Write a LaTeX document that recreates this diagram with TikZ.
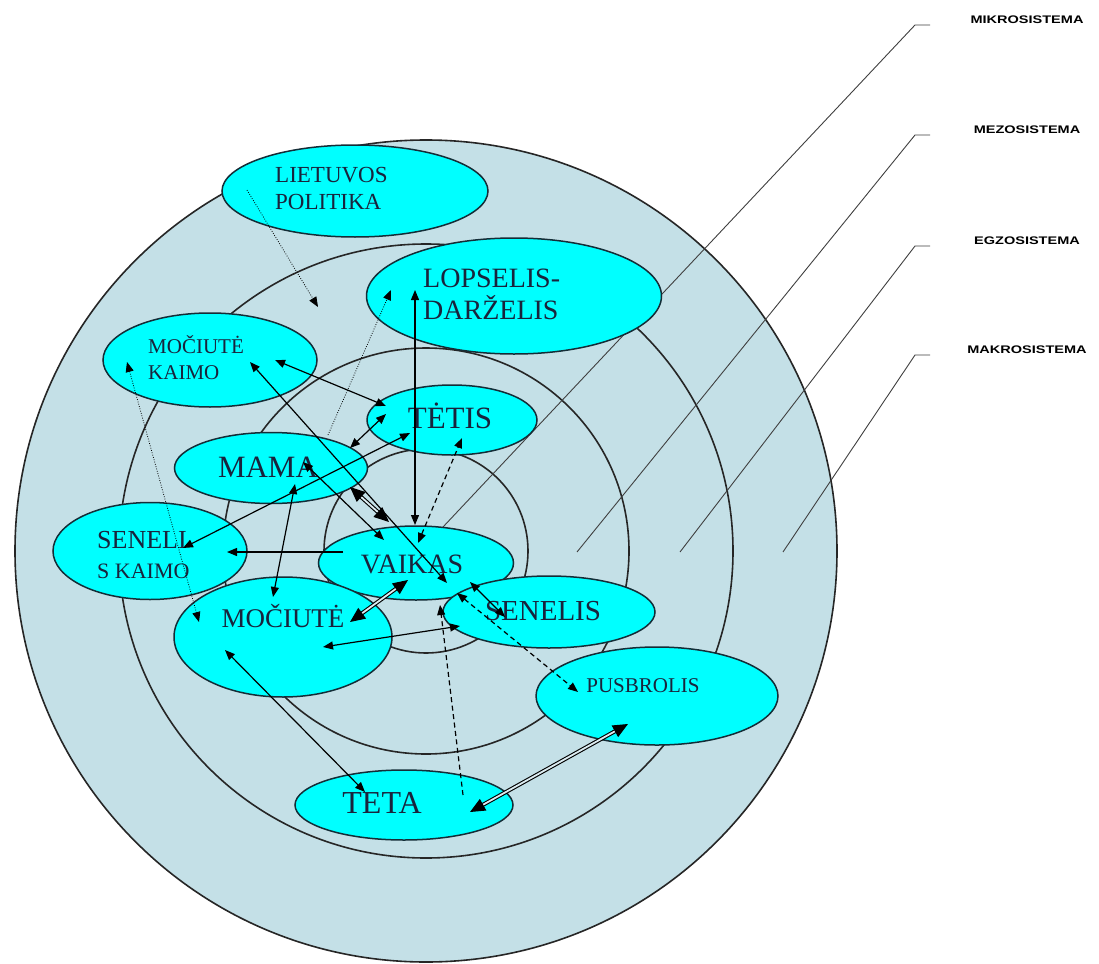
\documentclass[tikz,border=0pt]{standalone}
\usepackage{graphicx}
\usepackage{fontspec}
\setmainfont{Liberation Serif}
\newfontfamily\labelfont{Liberation Sans}
\usetikzlibrary{shapes,arrows.meta}
\tikzset{>={Triangle[length=10pt,width=8pt]}}
\definecolor{sysblue}{RGB}{196,224,231}
\definecolor{nodecyan}{RGB}{0,255,255}
\definecolor{edge}{RGB}{20,45,55}
\definecolor{ink}{RGB}{25,35,60}
\tikzset{
  blob/.style={ellipse, draw=edge, line width=1.5pt, fill=nodecyan, inner sep=0pt},
  ring/.style={draw=black!85, line width=1.6pt},
  txt/.style={text=ink, inner sep=0pt, align=left},
  leader/.style={draw=black!75, line width=0.9pt},
  syslabel/.style={inner sep=0pt, font=\labelfont\bfseries\fontsize{11}{11}\selectfont},
  link/.style={<->, line width=1.2pt},
  onelink/.style={->, line width=1.2pt},
  dots/.style={dash pattern=on 0.8pt off 1.6pt, line width=0.8pt},
  dashes/.style={dash pattern=on 5pt off 3.5pt, line width=1.2pt},
  boldlink/.style={{Triangle[length=15pt,width=13pt]}-{Triangle[length=15pt,width=13pt]},
    line width=1.1pt, double=sysblue!60, double distance=1.8pt}
}

\begin{document}
\begin{tikzpicture}[x=1pt,y=-1pt]
  \useasboundingbox (0,0) rectangle (1099,963);
  \fill[white] (0,0) rectangle (1099,963);
  \def\cx{426}  % centre of the systems
  \def\cy{551}
  \fill[sysblue] (\cx,\cy) circle (411pt);
  \foreach \r in {411,307,203,102} {%
    \draw[ring] (\cx,\cy) circle (\r pt);
  }
  %
  \foreach \i/\fx/\fy/\ty/\sysname in {1/443/527/25/MIKROSISTEMA,2/577/552/135/MEZOSISTEMA,
      3/680/552/246/EGZOSISTEMA,4/783/552/355/MAKROSISTEMA} {%
    \coordinate (foot\i) at (\fx,\fy);
    \coordinate (knee\i) at (915,\ty);
    \coordinate (end\i) at (930,\ty);
    \draw[leader] (foot\i) -- (knee\i) -- (end\i);
    \node[syslabel] (sys\i) at (1027,\ty-5) {\scalebox{1.32}[1]{\sysname}};
  }
  %
  \node[blob, minimum width=266pt, minimum height=92pt] (politika) at (355,191) {};
  \node[blob, minimum width=295pt, minimum height=116pt] (lopselis) at (514,296) {};
  \node[blob, minimum width=214pt, minimum height=94pt] (mkaimo) at (210,360) {};
  \node[blob, minimum width=170pt, minimum height=70pt] (tetis) at (452,420) {};
  \node[blob, minimum width=193pt, minimum height=71pt] (mama) at (271,468) {};
  \node[blob, minimum width=194pt, minimum height=97pt] (skaimo) at (150,551) {};
  \node[blob, minimum width=195pt, minimum height=74pt] (vaikas) at (416,563) {};
  \node[blob, minimum width=218pt, minimum height=120pt] (mociute) at (283,637) {};
  \node[blob, minimum width=212pt, minimum height=72pt] (senelis) at (549,612) {};
  \node[blob, minimum width=242pt, minimum height=98pt] (pusbrolis) at (657,696) {};
  \node[blob, minimum width=218pt, minimum height=70pt] (teta) at (404,805) {};
  %
  \node[txt, anchor=west, font=\fontsize{23}{27}\selectfont] (politika-t) at (275,188) {LIETUVOS\\POLITIKA};
  \node[txt, anchor=west, font=\fontsize{28}{32}\selectfont] (lopselis-t) at (423,294) {LOPSELIS-\\DARŽELIS};
  \node[txt, anchor=west, font=\fontsize{21}{26}\selectfont] (mkaimo-t) at (148,358) {MOČIUTĖ\\KAIMO};
  \node[txt, anchor=base, font=\fontsize{31}{31}\selectfont] (tetis-t) at (450,428) {TĖTIS};
  \node[txt, anchor=base, font=\fontsize{31}{31}\selectfont] (mama-t) at (268,477) {MAMA};
  \node[txt, anchor=west, font=\fontsize{26}{30}\selectfont] (skaimo-t) at (97,555) {SENELI\\{\fontsize{22}{22}\selectfont S KAIMO}};
  \node[txt, anchor=base, font=\fontsize{28}{28}\selectfont] (vaikas-t) at (412,573) {VAIKAS};
  \node[txt, anchor=base, font=\fontsize{27}{27}\selectfont] (mociute-t) at (283,627) {MOČIUTĖ};
  \node[txt, anchor=base, font=\fontsize{29}{29}\selectfont] (senelis-t) at (543,620) {SENELIS};
  \node[txt, anchor=base, font=\fontsize{21}{21}\selectfont] (pusbrolis-t) at (643,692) {PUSBROLIS};
  \node[txt, anchor=base, font=\fontsize{32}{32}\selectfont] (teta-t) at (382,813) {TETA};
  %
  \coordinate (pol-s) at (247,190);   \coordinate (pol-e) at (318,307);
  \coordinate (mam-n) at (328,435);   \coordinate (lop-w) at (391,290);
  \coordinate (mk-w) at (127,362);    \coordinate (moc-nw) at (199,622);
  \coordinate (lop-s) at (415,290);   \coordinate (vai-n) at (415,525);
  \coordinate (mk-e) at (275,360);    \coordinate (tet-w) at (386,406);
  \coordinate (mk-c) at (250,362);    \coordinate (vai-se) at (447,583);
  \coordinate (mam-ne) at (350,448);  \coordinate (tet-sw) at (386,414);
  \coordinate (sk-c) at (183,548);    \coordinate (tet-s) at (410,433);
  \coordinate (vai-w) at (343,552);   \coordinate (sk-e) at (227,552);
  \coordinate (mam-s) at (295,484);   \coordinate (moc-n) at (273,597);
  \coordinate (mam-se) at (350,487);  \coordinate (vai-nw) at (389,522);
  \coordinate (mam-c) at (303,462);   \coordinate (vai-nw2) at (384,540);
  \coordinate (vai-s) at (408,580);   \coordinate (moc-ne) at (350,622);
  \coordinate (moc-c) at (323,647);   \coordinate (sen-w) at (460,626);
  \coordinate (moc-w) at (225,650);   \coordinate (teta-nw) at (365,792);
  \coordinate (teta-e) at (470,812);  \coordinate (pus-sw) at (628,724);
  \coordinate (teta-n) at (463,795);  \coordinate (sen-nw) at (440,605);
  \coordinate (vai-c) at (418,543);   \coordinate (tet-c) at (462,438);
  \coordinate (vai-se2) at (457,593); \coordinate (pus-w) at (578,692);
  \coordinate (sen-n) at (470,582);   \coordinate (sen-c) at (505,617);
  %
  \draw[onelink, dots] (pol-s) -- (pol-e);
  \draw[onelink, dots] (mam-n) -- (lop-w);
  \draw[link, dots] (mk-w) -- (moc-nw);
  \draw[link] (lop-s) -- (vai-n);
  \draw[link] (mk-e) -- (tet-w);
  \draw[link] (mk-c) -- (vai-se);
  \draw[link] (mam-ne) -- (tet-sw);
  \draw[link] (sk-c) -- (tet-s);
  \draw[onelink] (vai-w) -- (sk-e);
  \draw[link] (mam-s) -- (moc-n);
  \draw[boldlink] (mam-se) -- (vai-nw);
  \draw[link] (mam-c) -- (vai-nw2);
  \draw[boldlink] (vai-s) -- (moc-ne);
  \draw[link] (moc-c) -- (sen-w);
  \draw[link] (moc-w) -- (teta-nw);
  \draw[boldlink] (teta-e) -- (pus-sw);
  \draw[onelink, dashes] (teta-n) -- (sen-nw);
  \draw[link, dashes] (vai-c) -- (tet-c);
  \draw[link, dashes] (vai-se2) -- (pus-w);
  \draw[link] (sen-n) -- (sen-c);
\end{tikzpicture}
\end{document}
